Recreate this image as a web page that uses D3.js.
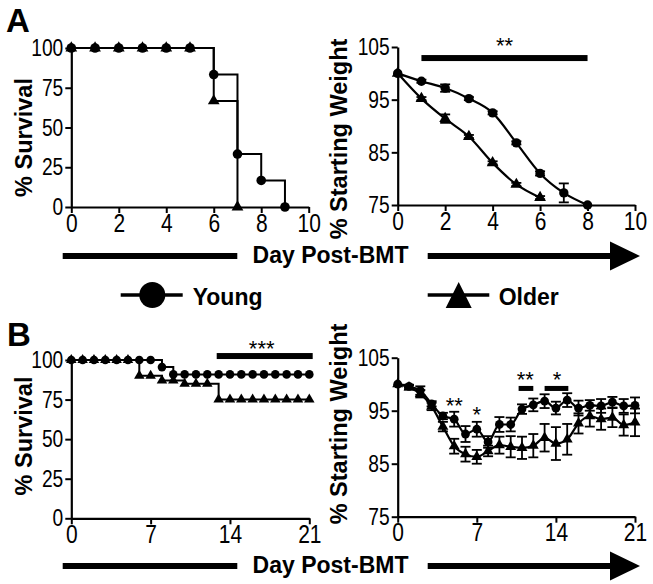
<!DOCTYPE html>
<html><head><meta charset="utf-8">
<script src="https://cdn.jsdelivr.net/npm/d3@7"></script>
<style>
html,body{margin:0;padding:0;background:#fff;}
svg{display:block;font-family:"Liberation Sans",Arial,Helvetica,sans-serif;}
</style></head>
<body>
<svg id="chart" width="653" height="584"></svg>
<script>
// ---------------- DATA ----------------
// Panel A – survival (Kaplan-Meier)
const survA_daysYoung = [0,1,2,3,4,5,6,7,8,9];
const survA_young     = [100,100,100,100,100,100,83.3,33.3,16.7,0];
const survA_daysOlder = [0,1,2,3,4,5,6,7];
const survA_older     = [100,100,100,100,100,100,66.7,0];
// Panel A – weight
const wA_daysYoung = [0,1,2,3,4,5,6,7,8];
const wA_young     = [100,98.5,97.2,95.2,92.5,86.8,81.0,77.3,75.0];
const wA_youngErr  = [0,0.3,0.7,0.3,0.3,0.3,0.4,1.8,0];
const wA_daysOlder = [0,1,2,3,4,5,6];
const wA_older     = [100,95.2,91.4,88.0,83.0,78.9,76.4];
const wA_olderErr  = [0,0.3,0.8,0.3,0.3,0.3,0.3];
// Panel B – survival
const survB_days  = d3.range(0,22);
const survB_young = [100,100,100,100,100,100,100,100,95.5,90.9,90.9,90.9,90.9,90.9,90.9,90.9,90.9,90.9,90.9,90.9,90.9,90.9];
const survB_older = [100,100,100,100,100,100,90,90,87,87,85,85,85,75,75,75,75,75,75,75,75,75];
// Panel B – weight
const wB_days = d3.range(0,22);
const wB_young    = [100,99.6,98.8,96.3,94.0,93.4,90.6,91.5,89.1,92.4,92.4,95.3,96.1,96.8,95.5,97.0,95.5,96.0,95.9,96.6,95.9,96.0];
const wB_youngErr = [0,0.3,0.8,0.5,0.6,1.4,1.5,1.4,1.1,1.4,1.3,0.9,1.2,1.3,1.2,1.3,1.4,1.0,1.3,1.0,1.3,1.5];
const wB_older    = [100,99.4,98.2,95.8,92.0,88.3,86.8,86.3,87.4,88.5,88.2,88.0,88.4,89.9,88.8,89.6,92.6,94.0,93.4,93.7,92.3,92.8];
const wB_olderErr = [0,0.4,0.7,0.7,0.9,1.4,1.4,1.3,1.0,1.6,2.0,2.1,2.2,2.6,3.1,2.9,1.9,2.0,2.0,1.8,2.0,2.6];
// Tick labels
const ticksA_x = [0,2,4,6,8,10];
const ticksB_x = [0,7,14,21];
const ticksSurv_y = [0,25,50,75,100];
const ticksWeight_y = [75,85,95,105];
// Significance annotations (day range, y value in data units, label)
const sigA_weight = [{x0:1, x1:8, y:102.9, ly:106.3, lx:4.5, label:"**"}];
const sigB_surv   = [{x0:12.83, x1:21.3, y:102.5, ly:110.7, lx:16.8, label:"***"}];
const sigB_weightBars = [{x0:10.7, x1:12.0, y:99.2}, {x0:13.0, x1:15.1, y:99.2}];
const sigB_weightStars = [{x:5.0, y:97.0, label:"**"}, {x:7.0, y:95.3, label:"*"},
                          {x:11.3, y:101.9, label:"**"}, {x:14.1, y:101.9, label:"*"}];
const legendLabels = ["Young","Older"];
const xTitle = "Day Post-BMT";

// ---------------- DRAW ----------------
const svg = d3.select("#chart");
svg.append("rect").attr("width",653).attr("height",584).attr("fill","#fff");

const panels = {
  AL:{x:d3.scaleLinear([0,10],[71.3,308.7]), y:d3.scaleLinear([0,100],[207,48]), xt:ticksA_x, yt:ticksSurv_y},
  AR:{x:d3.scaleLinear([0,10],[397.7,635]), y:d3.scaleLinear([75,105],[205,47]), xt:ticksA_x, yt:ticksWeight_y},
  BL:{x:d3.scaleLinear([0,21],[71.3,309.3]), y:d3.scaleLinear([0,100],[518.3,360]), xt:ticksB_x, yt:ticksSurv_y},
  BR:{x:d3.scaleLinear([0,21],[397.7,635]), y:d3.scaleLinear([75,105],[516.7,357.7]), xt:ticksB_x, yt:ticksWeight_y}
};

function drawAxes(p){
  const gx = svg.append("g").attr("transform",`translate(0,${p.y.range()[0]})`)
    .call(d3.axisBottom(p.x).tickValues(p.xt).tickSize(6).tickSizeOuter(0).tickPadding(1).tickFormat(d3.format("d")));
  const gy = svg.append("g").attr("transform",`translate(${p.x.range()[0]},0)`)
    .call(d3.axisLeft(p.y).tickValues(p.yt).tickSize(6).tickSizeOuter(0).tickPadding(2).tickFormat(d3.format("d")));
  [gx,gy].forEach(g=>{
    g.select(".domain").attr("stroke","#000").attr("stroke-width",2.2);
    g.selectAll(".tick line").attr("stroke","#000").attr("stroke-width",2);
    g.selectAll(".tick text").attr("fill","#000").attr("font-size",24)
      .attr("font-family","'Liberation Sans',Arial,sans-serif");
  });
  gx.selectAll(".tick text").attr("font-size",25).attr("transform","scale(0.84,1)");
  gy.selectAll(".tick text").attr("transform","scale(0.8,1)").attr("x",-8/0.8);
}
Object.values(panels).forEach(drawAxes);

function circles(p, xs, ys, r){
  svg.append("g").selectAll("circle").data(xs).join("circle")
    .attr("cx",(d)=>p.x(d)).attr("cy",(d,i)=>p.y(ys[i])).attr("r",r).attr("fill","#000");
}
function triangles(p, xs, ys, size){
  svg.append("g").selectAll("path").data(xs).join("path")
    .attr("d",d3.symbol(d3.symbolTriangle,size))
    .attr("transform",(d,i)=>`translate(${p.x(d)},${p.y(ys[i])})`).attr("fill","#000");
}
function stepLine(p, xs, ys){
  const line = d3.line().x(d=>p.x(d[0])).y(d=>p.y(d[1])).curve(d3.curveStepAfter);
  svg.append("path").attr("d",line(xs.map((d,i)=>[d,ys[i]])))
    .attr("fill","none").attr("stroke","#000").attr("stroke-width",2);
}
function smoothLine(p, xs, ys){
  const line = d3.line().x(d=>p.x(d[0])).y(d=>p.y(d[1])).curve(d3.curveMonotoneX);
  svg.append("path").attr("d",line(xs.map((d,i)=>[d,ys[i]])))
    .attr("fill","none").attr("stroke","#000").attr("stroke-width",2.2);
}
function errBars(p, xs, ys, es, cap){
  const g = svg.append("g").attr("stroke","#000").attr("stroke-width",1.8);
  xs.forEach((d,i)=>{
    if(!es[i]) return;
    const x = p.x(d), y0 = p.y(ys[i]-es[i]), y1 = p.y(ys[i]+es[i]);
    g.append("line").attr("x1",x).attr("x2",x).attr("y1",y0).attr("y2",y1);
    g.append("line").attr("x1",x-cap).attr("x2",x+cap).attr("y1",y0).attr("y2",y0);
    g.append("line").attr("x1",x-cap).attr("x2",x+cap).attr("y1",y1).attr("y2",y1);
  });
}

// Panel A left: survival
stepLine(panels.AL, survA_daysOlder, survA_older);
stepLine(panels.AL, survA_daysYoung, survA_young);
triangles(panels.AL, survA_daysOlder, survA_older, 60);
circles(panels.AL, survA_daysYoung, survA_young, 4.8);

// Panel A right: weight
smoothLine(panels.AR, wA_daysOlder, wA_older);
smoothLine(panels.AR, wA_daysYoung, wA_young);
errBars(panels.AR, wA_daysOlder, wA_older, wA_olderErr, 5);
errBars(panels.AR, wA_daysYoung, wA_young, wA_youngErr, 5);
triangles(panels.AR, wA_daysOlder, wA_older, 60);
circles(panels.AR, wA_daysYoung, wA_young, 4.7);

// Panel B left: survival
stepLine(panels.BL, survB_days, survB_older);
stepLine(panels.BL, survB_days, survB_young);
triangles(panels.BL, survB_days, survB_older, 48);
circles(panels.BL, survB_days, survB_young, 4.3);

// Panel B right: weight
smoothLine(panels.BR, wB_days, wB_older);
smoothLine(panels.BR, wB_days, wB_young);
errBars(panels.BR, wB_days, wB_older, wB_olderErr, 5);
errBars(panels.BR, wB_days, wB_young, wB_youngErr, 5);
triangles(panels.BR, wB_days, wB_older, 52);
circles(panels.BR, wB_days, wB_young, 4.4);

// Significance bars and stars
function sigBar(p, s, h){
  svg.append("rect").attr("x",p.x(s.x0)).attr("width",p.x(s.x1)-p.x(s.x0))
    .attr("y",p.y(s.y)-h/2).attr("height",h).attr("fill","#000");
}
function star(p, x, y, label){
  svg.append("text").attr("x",p.x(x)).attr("y",p.y(y)+12.5).attr("text-anchor","middle")
    .attr("font-size",22).attr("fill","#000").text(label);
}
sigA_weight.forEach(s=>{ sigBar(panels.AR,s,6); star(panels.AR,s.lx,s.ly,s.label); });
sigB_surv.forEach(s=>{ sigBar(panels.BL,s,6); star(panels.BL,s.lx,s.ly,s.label); });
sigB_weightBars.forEach(s=>sigBar(panels.BR,s,5));
sigB_weightStars.forEach(s=>star(panels.BR,s.x,s.y,s.label));

// Axis titles
function yTitle(x, y, t){
  svg.append("text").attr("transform",`translate(${x},${y}) rotate(-90)`)
    .attr("text-anchor","middle").attr("dominant-baseline","central")
    .attr("font-size",23.5).attr("font-weight","bold").attr("fill","#000").text(t);
}
yTitle(24,137.5,"% Survival");
yTitle(339,139,"% Starting Weight");
yTitle(24,436,"% Survival");
yTitle(339,424,"% Starting Weight");

// Panel letters
svg.append("text").attr("x",6).attr("y",32).attr("font-size",33).attr("font-weight","bold").text("A");
svg.append("text").attr("x",7).attr("y",346).attr("font-size",33).attr("font-weight","bold").text("B");

// Bottom "Day Post-BMT" arrows
function dayArrow(cy){
  svg.append("line").attr("x1",62.7).attr("x2",237.3).attr("y1",cy).attr("y2",cy)
    .attr("stroke","#000").attr("stroke-width",6);
  svg.append("text").attr("x",330.5).attr("y",cy+6.5).attr("text-anchor","middle")
    .attr("font-size",23).attr("font-weight","bold").text(xTitle);
  svg.append("line").attr("x1",427.7).attr("x2",612).attr("y1",cy).attr("y2",cy)
    .attr("stroke","#000").attr("stroke-width",6);
  svg.append("path").attr("d",`M610,${cy-14.5}L640,${cy}L610,${cy+14.5}Z`).attr("fill","#000");
}
dayArrow(256);
dayArrow(566);

// Legend
const ly = 295;
svg.append("line").attr("x1",120.7).attr("x2",182.7).attr("y1",ly).attr("y2",ly).attr("stroke","#000").attr("stroke-width",3.5);
svg.append("circle").attr("cx",152.3).attr("cy",ly).attr("r",13).attr("fill","#000");
svg.append("text").attr("x",192.7).attr("y",ly+10).attr("font-size",23).attr("font-weight","bold").text(legendLabels[0]);
svg.append("line").attr("x1",427.7).attr("x2",489.3).attr("y1",ly).attr("y2",ly).attr("stroke","#000").attr("stroke-width",3.5);
svg.append("path").attr("d",`M458.7,${ly-13}L471.7,${ly+13}L445.7,${ly+13}Z`).attr("fill","#000");
svg.append("text").attr("x",498.7).attr("y",ly+10).attr("font-size",23).attr("font-weight","bold").text(legendLabels[1]);
</script>
</body></html>
